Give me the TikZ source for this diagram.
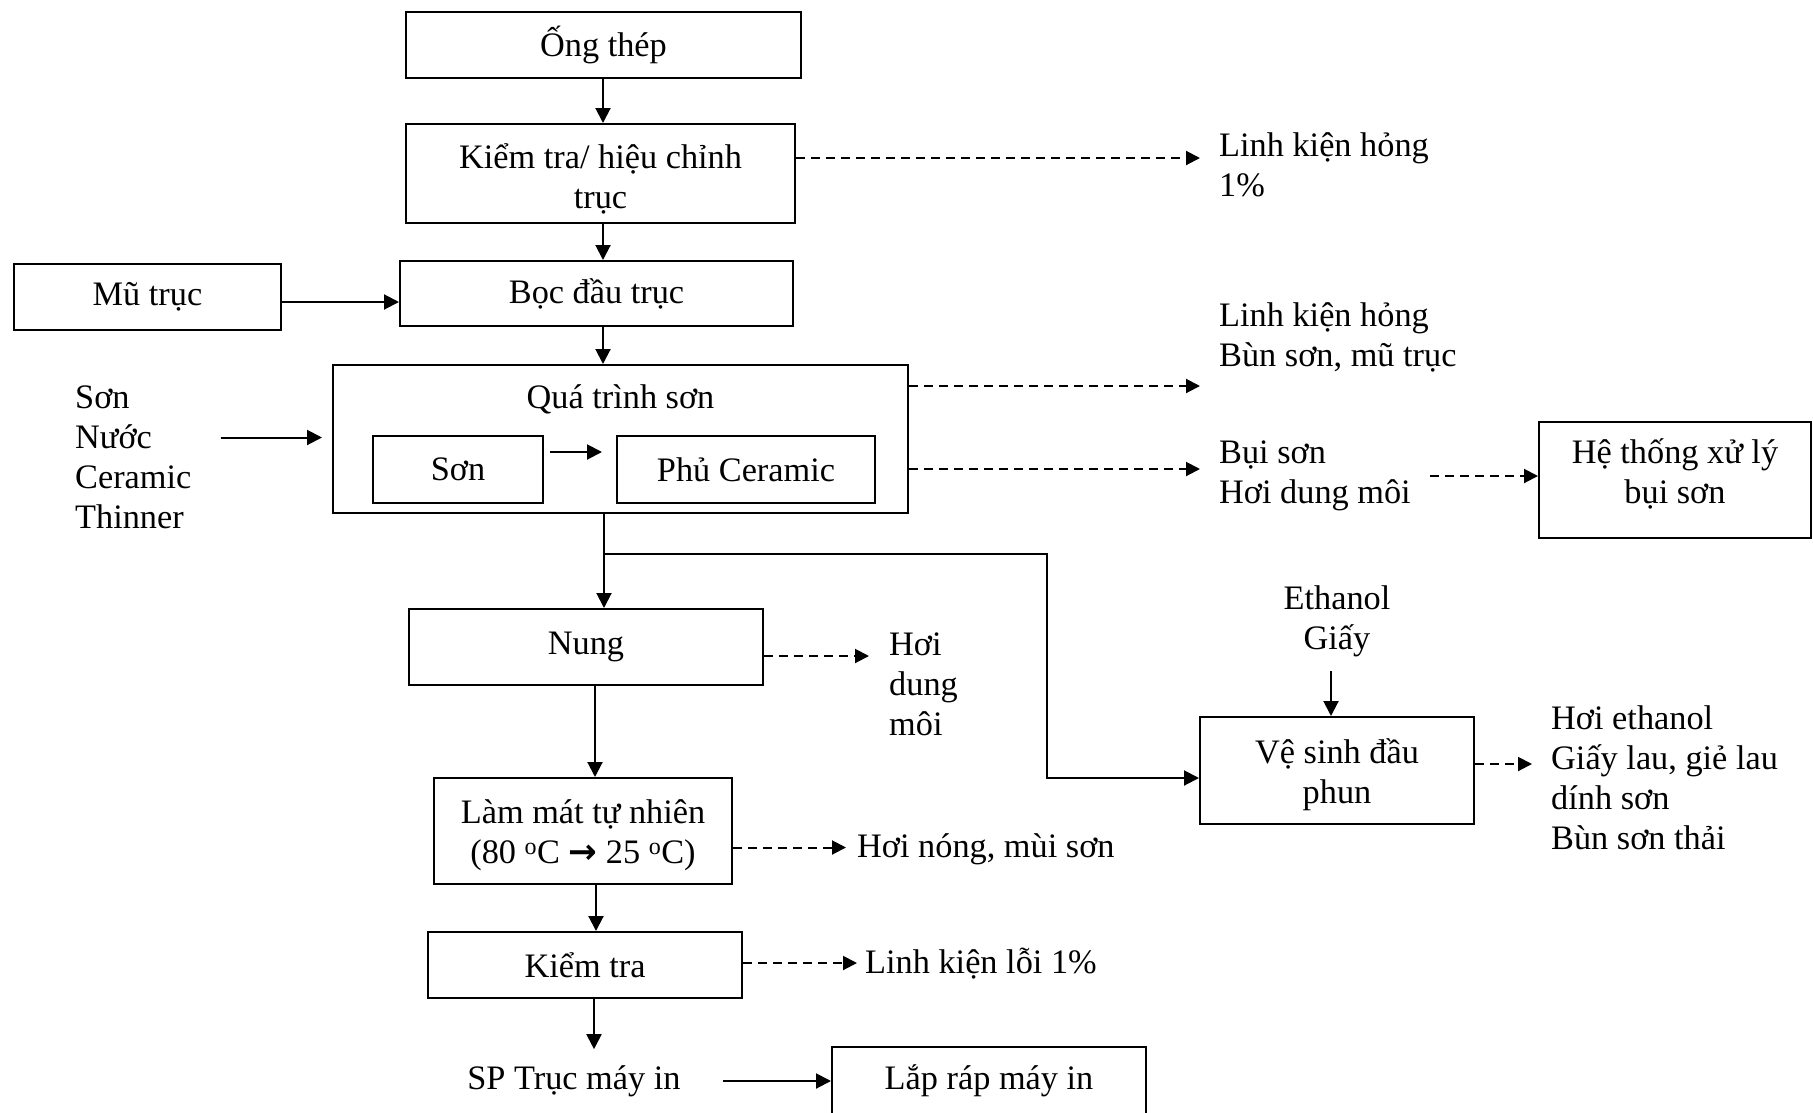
\documentclass[tikz,border=0pt]{standalone}
\usepackage{fontspec}
\setmainfont{Liberation Serif}
\newfontfamily\symf{DejaVu Sans}
\usetikzlibrary{arrows.meta}
\newcommand\diagfont{\fontsize{34.3pt}{40pt}\selectfont}
\begin{document}
\begin{tikzpicture}[x=1pt,y=-1pt,
  font=\diagfont,
  box/.style={draw, line width=2pt, inner sep=0pt, align=center},
  lbl/.style={inner ysep=0pt, align=left, anchor=west},
  arr/.style={line width=2pt, -{Triangle[length=15pt,width=15pt]}},
  darr/.style={line width=2pt, dash pattern=on 9pt off 6pt, -{Triangle[length=14pt,width=14pt]}}]
\clip (0,0) rectangle (1813,1112);
\fill[white] (0,0) rectangle (1813,1112);
\coordinate (xa) at (603,0);
% main column
\node[box, minimum width=395pt, minimum height=66pt] (ong) at (603.5,45) {Ống thép};
\node[box, minimum width=389pt, minimum height=99pt] (kt) at (600.5,173.5) {\rule{0pt}{36pt}Kiểm tra/ hiệu chỉnh\\trục};
\node[box, minimum width=267pt, minimum height=66pt] (mu) at (147.5,297) {Mũ trục};
\node[box, minimum width=393pt, minimum height=65pt] (boc) at (596.5,293.5) {Bọc đầu trục};
\node[box, minimum width=575pt, minimum height=147.5pt] (qts) at (620.5,438.75) {};
\node (qtitle) at (620.5,399) {Quá trình sơn};
\node[box, minimum width=170pt, minimum height=67pt] (son) at (458,469.5) {Sơn};
\node[box, minimum width=258pt, minimum height=67pt] (phu) at (746,469.5) {Phủ Ceramic};
\node[lbl, inner xsep=29pt] (inp) at (46,457) {Sơn\\Nước\\Ceramic\\Thinner};
\node[box, minimum width=354pt, minimum height=75.5pt] (nung) at (586,646.75) {Nung};
\node[box, minimum width=298pt, minimum height=106pt] (lm) at (583,831) {\rule{0pt}{33pt}Làm mát tự nhiên\\(80 \textsuperscript{o}C {\symf\bfseries →} 25 \textsuperscript{o}C)};
\node[box, minimum width=314pt, minimum height=66pt] (kt2) at (585,965) {Kiểm tra};
\node[inner xsep=42pt, inner ysep=16pt] (sp) at (574,1081) {SP Trục máy in};
\node[box, minimum width=314pt, minimum height=67pt] (lr) at (989,1080.5) {Lắp ráp máy in};
% outputs
\node[lbl, inner xsep=19pt] (lk1) at (1200,164.5) {Linh kiện hỏng\\1\%};
\node[lbl, inner xsep=19pt] (lk2) at (1200,337.5) {Linh kiện hỏng\\Bùn sơn, mũ trục};
\node[lbl, inner xsep=19pt] (bui) at (1200,475.5) {Bụi sơn\\Hơi dung môi};
\node[box, minimum width=272pt, minimum height=115.5pt] (ht) at (1675,480) {Hệ thống xử lý\\bụi sơn\rule[-17pt]{0pt}{0pt}};
\node[lbl, inner xsep=20pt] (hoi) at (869,684) {Hơi\\dung\\môi};
\node[lbl, inner xsep=11pt] (hn) at (846,849.5) {Hơi nóng, mùi sơn};
\node[lbl, inner xsep=8pt] (lkl) at (857,964) {Linh kiện lỗi 1\%};
\node[align=center, inner sep=0pt] (eth) at (1337,621) {Ethanol\\Giấy};
\node[box, minimum width=274pt, minimum height=107pt] (vs) at (1337,770.5) {\rule{0pt}{33pt}Vệ sinh đầu\\phun};
\node[lbl, inner xsep=19pt] (ho) at (1532,778) {Hơi ethanol\\Giấy lau, giẻ lau\\dính sơn\\Bùn sơn thải};
\coordinate (ethA) at (1331,671);
\coordinate (br) at (604,553.5);
% solid connectors
\draw[arr] (ong.south -| xa) -- (kt.north -| xa);
\draw[arr] (kt.south -| xa) -- (boc.north -| xa);
\draw[arr] (boc.south -| xa) -- (qts.north -| xa);
\draw[arr] (mu.east |- 0,302) -- (boc.west |- 0,302);
\draw[arr, shorten >=10pt] (inp.east |- 0,437.5) -- (qts.west |- 0,437.5);
\draw[arr, shorten <=6pt, shorten >=14pt] (son.east |- 0,452) -- (phu.west |- 0,452);
\draw[arr] (qts.south -| br) -- (nung.north -| br);
\draw[arr] (br) -- (1047,553.5) |- (vs.west |- 0,778);
\draw[arr] (nung.south -| 595,0) -- (lm.north -| 595,0);
\draw[arr] (lm.south -| 596,0) -- (kt2.north -| 596,0);
\draw[arr] (kt2.south -| 594,0) -- (sp.north -| 594,0);
\draw[arr] (sp.east) -- (lr.west |- sp.east);
\draw[arr] (ethA) -- (vs.north -| ethA);
% dashed connectors
\draw[darr] (kt.east |- 0,158) -- (lk1.west |- 0,158);
\draw[darr] (qts.east |- 0,386) -- (lk2.west |- 0,386);
\draw[darr] (qts.east |- 0,469) -- (bui.west |- 0,469);
\draw[darr] (bui.east |- 0,476) -- (ht.west |- 0,476);
\draw[darr] (nung.east |- 0,656) -- (hoi.west |- 0,656);
\draw[darr] (lm.east |- 0,847.5) -- (hn.west |- 0,847.5);
\draw[darr] (kt2.east |- 0,963) -- (lkl.west |- 0,963);
\draw[darr] (vs.east |- 0,764) -- (ho.west |- 0,764);
\end{tikzpicture}
\end{document}
